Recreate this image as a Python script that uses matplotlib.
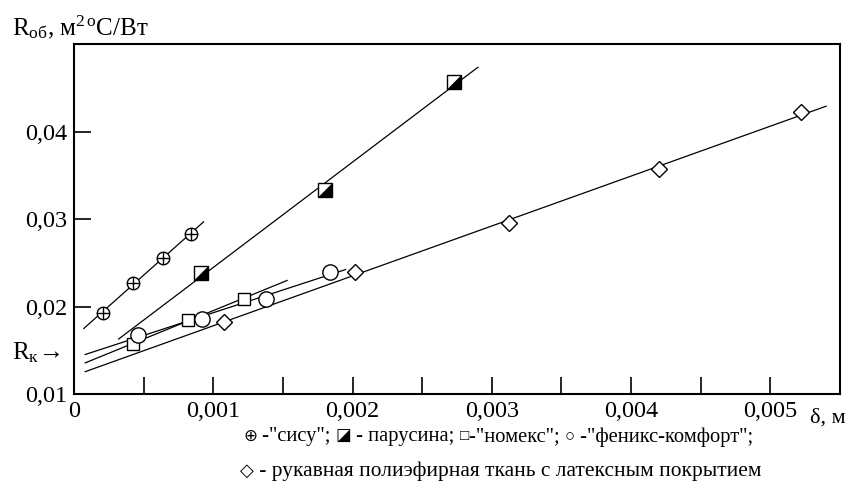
import numpy as np
import matplotlib
matplotlib.use("Agg")
import matplotlib.pyplot as plt
from matplotlib.ticker import MultipleLocator, FixedLocator, FuncFormatter

plt.rcParams['font.family'] = ['Liberation Serif', 'DejaVu Sans']
plt.rcParams['mathtext.fontset'] = 'custom'
plt.rcParams['mathtext.rm'] = 'Liberation Serif'
plt.rcParams['mathtext.it'] = 'Liberation Serif:italic'

# данные (толщина, м; сопротивление, м2 С/Вт)
sisu_x = [0.00021, 0.00042, 0.00064, 0.00084]
sisu_y = [0.0193, 0.0227, 0.0256, 0.0283]
parus_x = [0.00091, 0.0018, 0.00273]
parus_y = [0.0238, 0.0333, 0.0457]
nomex_x = [0.00042, 0.00082, 0.00122]
nomex_y = [0.0157, 0.0185, 0.0209]
fenix_x = [0.00046, 0.00092, 0.00138, 0.00184]
fenix_y = [0.0168, 0.0186, 0.0209, 0.0240]
rukav_x = [0.00108, 0.00202, 0.00312, 0.0042, 0.00522]
rukav_y = [0.0182, 0.0240, 0.0296, 0.0357, 0.0422]
rk = 0.0147

# диапазоны линий регрессии
rng_sisu = (0.00007, 0.00093)
rng_parus = (0.00032, 0.0029)
rng_nomex = (0.00008, 0.00153)
rng_fenix = (0.00008, 0.00195)
rng_rukav = (0.00008, 0.0054)

fig = plt.figure(figsize=(8.52, 4.88), dpi=100)
ax = fig.add_axes([0.0869, 0.1926, 0.899, 0.717])


def fit_line(xs, ys, rng):
    k, b = np.polyfit(xs, ys, 1)
    xx = np.array(rng)
    ax.plot(xx, k * xx + b, color='black', lw=0.9, zorder=2)


fit_line(sisu_x, sisu_y, rng_sisu)
fit_line(parus_x, parus_y, rng_parus)
fit_line(nomex_x, nomex_y, rng_nomex)
fit_line(fenix_x, fenix_y, rng_fenix)
fit_line(rukav_x, rukav_y, rng_rukav)

mk = dict(ls='none', mec='black', mew=1.0, zorder=3)
# сису: круг с крестом
ax.plot(sisu_x, sisu_y, marker='o', ms=9, mfc='white', **mk)
ax.plot(sisu_x, sisu_y, marker='+', ms=9, **mk)
# парусина: квадрат, наполовину черный
ax.plot(parus_x, parus_y, marker='s', ms=9.5, mfc='white', **mk)
ax.plot(parus_x, parus_y, marker=[(1, -1), (1, 1), (-1, -1)], ms=9.5,
        mfc='black', ls='none', mec='black', mew=0.5, zorder=4)
# номекс
ax.plot(nomex_x, nomex_y, marker='s', ms=8, mfc='white', **mk)
# феникс-комфорт
ax.plot(fenix_x, fenix_y, marker='o', ms=11, mfc='white', **mk)
# рукавная ткань
ax.plot(rukav_x, rukav_y, marker='D', ms=8.5, mfc='white', **mk)

ax.set_xlim(0, 0.0055)
ax.set_ylim(0.01, 0.05)
ax.xaxis.set_major_locator(MultipleLocator(0.001))
ax.xaxis.set_minor_locator(MultipleLocator(0.0005))
ax.yaxis.set_major_locator(FixedLocator([0.01, 0.02, 0.03, 0.04]))

fmt = FuncFormatter(lambda v, p: ('%g' % round(v, 5)).replace('.', ','))
ax.xaxis.set_major_formatter(fmt)
ax.yaxis.set_major_formatter(fmt)

ax.tick_params(which='both', direction='in', length=12, width=1.2,
               top=False, right=False, labelsize=17.5, pad=5)
for s in ax.spines.values():
    s.set_linewidth(1.5)

fig.text(12 / 852, 1 - 27 / 488, 'R$_{\\mathrm{об}}$, м$^{2\\,\\mathrm{o}}$C/Вт',
         fontsize=18, va='center', ha='left')
ax.text(-0.081, rk, 'R$_{\\mathrm{к}}\\!\\rightarrow$', transform=ax.get_yaxis_transform(),
        fontsize=18, va='center', ha='left')
fig.text(810 / 852, 1 - 418 / 488, 'δ, м', fontsize=16, va='center', ha='left')


def text_line(x, y, pieces):
    # строка подписи из кусков разного размера
    t = fig.text(x, y, pieces[0][0], fontsize=pieces[0][1], va='center', ha='left')
    for s, fs in pieces[1:]:
        t = ax.annotate(s, xy=(1, 0.5), xycoords=t, fontsize=fs,
                        va='center', ha='left')


text_line(243 / 852, 1 - 437 / 488,
          [('⊕', 12), (' -"сису"; ', 14.8), ('◪', 12), (' - парусина; ', 14.8),
           ('□', 11), ('-"номекс"; ', 14.8), ('○', 12), (' -"феникс-комфорт";', 14.8)])
text_line(240 / 852, 1 - 471 / 488,
          [('◇', 13), (' - рукавная полиэфирная ткань с латексным покрытием', 15.4)])

fig.savefig('out.png', dpi=100)
